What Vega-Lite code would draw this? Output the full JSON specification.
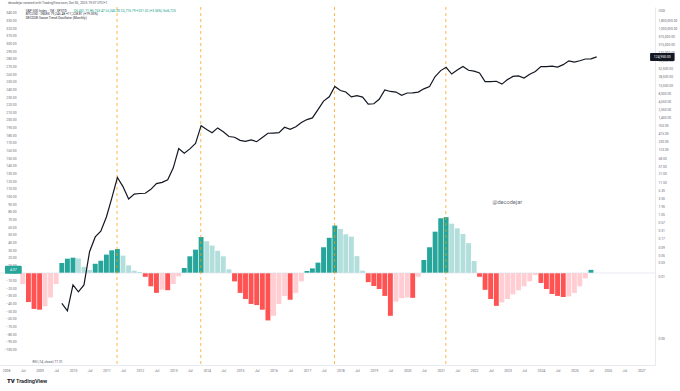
{
  "$schema": "https://vega.github.io/schema/vega-lite/v6.json",
  "width": 655,
  "height": 358,
  "autosize": {"type": "none"},
  "padding": {"left": 0, "top": 7, "right": 25, "bottom": 26},
  "background": "#ffffff",
  "config": {"view": {"stroke": null}, "font": "Roboto", "text": {"font": "Roboto"}},
  "datasets": {
    "osc": [
      {"t": "2008-07-01T00:00", "v": -14.4, "s": "recover"},
      {"t": "2008-09-01T00:00", "v": -38, "s": "drop"},
      {"t": "2008-11-01T00:00", "v": -47, "s": "drop"},
      {"t": "2009-01-01T00:00", "v": -48, "s": "drop"},
      {"t": "2009-03-01T00:00", "v": -43.6, "s": "recover"},
      {"t": "2009-05-01T00:00", "v": -32, "s": "recover"},
      {"t": "2009-07-01T00:00", "v": -14.4, "s": "recover"},
      {"t": "2009-09-01T00:00", "v": 13, "s": "grow"},
      {"t": "2009-11-01T00:00", "v": 18.7, "s": "grow"},
      {"t": "2010-01-01T00:00", "v": 20, "s": "grow"},
      {"t": "2010-03-01T00:00", "v": 19, "s": "fade"},
      {"t": "2010-05-01T00:00", "v": 8, "s": "fade"},
      {"t": "2010-07-01T00:00", "v": 4, "s": "fade"},
      {"t": "2010-09-01T00:00", "v": 12, "s": "grow"},
      {"t": "2010-11-01T00:00", "v": 16, "s": "grow"},
      {"t": "2011-01-01T00:00", "v": 24, "s": "grow"},
      {"t": "2011-03-01T00:00", "v": 29.6, "s": "grow"},
      {"t": "2011-05-01T00:00", "v": 31.4, "s": "grow"},
      {"t": "2011-07-01T00:00", "v": 22.7, "s": "fade"},
      {"t": "2011-09-01T00:00", "v": 10, "s": "fade"},
      {"t": "2011-11-01T00:00", "v": 3, "s": "fade"},
      {"t": "2012-01-01T00:00", "v": 1.3, "s": "fade"},
      {"t": "2012-03-01T00:00", "v": -5, "s": "drop"},
      {"t": "2012-05-01T00:00", "v": -17.4, "s": "drop"},
      {"t": "2012-07-01T00:00", "v": -26, "s": "drop"},
      {"t": "2012-09-01T00:00", "v": -21.8, "s": "recover"},
      {"t": "2012-11-01T00:00", "v": -22.5, "s": "drop"},
      {"t": "2013-01-01T00:00", "v": -14.4, "s": "recover"},
      {"t": "2013-03-01T00:00", "v": -4.4, "s": "recover"},
      {"t": "2013-05-01T00:00", "v": 6.5, "s": "grow"},
      {"t": "2013-07-01T00:00", "v": 21.8, "s": "grow"},
      {"t": "2013-09-01T00:00", "v": 30.5, "s": "grow"},
      {"t": "2013-11-01T00:00", "v": 47, "s": "grow"},
      {"t": "2014-01-01T00:00", "v": 41.4, "s": "fade"},
      {"t": "2014-03-01T00:00", "v": 35.8, "s": "fade"},
      {"t": "2014-05-01T00:00", "v": 29, "s": "fade"},
      {"t": "2014-07-01T00:00", "v": 21.8, "s": "fade"},
      {"t": "2014-09-01T00:00", "v": 4.8, "s": "fade"},
      {"t": "2014-11-01T00:00", "v": -11, "s": "drop"},
      {"t": "2015-01-01T00:00", "v": -26, "s": "drop"},
      {"t": "2015-03-01T00:00", "v": -34, "s": "drop"},
      {"t": "2015-05-01T00:00", "v": -40.5, "s": "drop"},
      {"t": "2015-07-01T00:00", "v": -42, "s": "drop"},
      {"t": "2015-09-01T00:00", "v": -48, "s": "drop"},
      {"t": "2015-11-01T00:00", "v": -62, "s": "drop"},
      {"t": "2016-01-01T00:00", "v": -56, "s": "recover"},
      {"t": "2016-03-01T00:00", "v": -40.5, "s": "recover"},
      {"t": "2016-05-01T00:00", "v": -30, "s": "recover"},
      {"t": "2016-07-01T00:00", "v": -35, "s": "drop"},
      {"t": "2016-09-01T00:00", "v": -26, "s": "recover"},
      {"t": "2016-11-01T00:00", "v": -11, "s": "recover"},
      {"t": "2017-01-01T00:00", "v": 2.6, "s": "grow"},
      {"t": "2017-03-01T00:00", "v": 6, "s": "grow"},
      {"t": "2017-05-01T00:00", "v": 13.5, "s": "grow"},
      {"t": "2017-07-01T00:00", "v": 33.6, "s": "grow"},
      {"t": "2017-09-01T00:00", "v": 46, "s": "grow"},
      {"t": "2017-11-01T00:00", "v": 62, "s": "grow"},
      {"t": "2018-01-01T00:00", "v": 57.5, "s": "fade"},
      {"t": "2018-03-01T00:00", "v": 50.6, "s": "fade"},
      {"t": "2018-05-01T00:00", "v": 47.5, "s": "fade"},
      {"t": "2018-07-01T00:00", "v": 22, "s": "fade"},
      {"t": "2018-09-01T00:00", "v": 3, "s": "fade"},
      {"t": "2018-11-01T00:00", "v": -12, "s": "drop"},
      {"t": "2019-01-01T00:00", "v": -17, "s": "drop"},
      {"t": "2019-03-01T00:00", "v": -21, "s": "drop"},
      {"t": "2019-05-01T00:00", "v": -30, "s": "drop"},
      {"t": "2019-07-01T00:00", "v": -56, "s": "drop"},
      {"t": "2019-09-01T00:00", "v": -37.5, "s": "recover"},
      {"t": "2019-11-01T00:00", "v": -33, "s": "recover"},
      {"t": "2020-01-01T00:00", "v": -32, "s": "recover"},
      {"t": "2020-03-01T00:00", "v": -32.5, "s": "drop"},
      {"t": "2020-05-01T00:00", "v": -5, "s": "recover"},
      {"t": "2020-07-01T00:00", "v": 17, "s": "grow"},
      {"t": "2020-09-01T00:00", "v": 33.6, "s": "grow"},
      {"t": "2020-11-01T00:00", "v": 54, "s": "grow"},
      {"t": "2021-01-01T00:00", "v": 71.5, "s": "grow"},
      {"t": "2021-03-01T00:00", "v": 73, "s": "grow"},
      {"t": "2021-05-01T00:00", "v": 64.5, "s": "fade"},
      {"t": "2021-07-01T00:00", "v": 58.4, "s": "fade"},
      {"t": "2021-09-01T00:00", "v": 51, "s": "fade"},
      {"t": "2021-11-01T00:00", "v": 39, "s": "fade"},
      {"t": "2022-01-01T00:00", "v": 15.7, "s": "fade"},
      {"t": "2022-03-01T00:00", "v": -5, "s": "drop"},
      {"t": "2022-05-01T00:00", "v": -22, "s": "drop"},
      {"t": "2022-07-01T00:00", "v": -34, "s": "drop"},
      {"t": "2022-09-01T00:00", "v": -43, "s": "drop"},
      {"t": "2022-11-01T00:00", "v": -38.5, "s": "recover"},
      {"t": "2023-01-01T00:00", "v": -34, "s": "recover"},
      {"t": "2023-03-01T00:00", "v": -28, "s": "recover"},
      {"t": "2023-05-01T00:00", "v": -22.7, "s": "recover"},
      {"t": "2023-07-01T00:00", "v": -17.4, "s": "recover"},
      {"t": "2023-09-01T00:00", "v": -11, "s": "recover"},
      {"t": "2023-11-01T00:00", "v": -2.6, "s": "recover"},
      {"t": "2024-01-01T00:00", "v": -13, "s": "drop"},
      {"t": "2024-03-01T00:00", "v": -21, "s": "drop"},
      {"t": "2024-05-01T00:00", "v": -27.5, "s": "drop"},
      {"t": "2024-07-01T00:00", "v": -30, "s": "drop"},
      {"t": "2024-09-01T00:00", "v": -31.4, "s": "drop"},
      {"t": "2024-11-01T00:00", "v": -30.5, "s": "recover"},
      {"t": "2025-01-01T00:00", "v": -26, "s": "recover"},
      {"t": "2025-03-01T00:00", "v": -17.4, "s": "recover"},
      {"t": "2025-05-01T00:00", "v": -7, "s": "recover"},
      {"t": "2025-07-01T00:00", "v": 4.07, "s": "grow"}
    ],
    "btc": [
      {"t": "2009-09-01T00:00", "p": 0.0014},
      {"t": "2009-11-01T00:00", "p": 0.0008},
      {"t": "2010-01-01T00:00", "p": 0.0055},
      {"t": "2010-03-01T00:00", "p": 0.0033},
      {"t": "2010-05-01T00:00", "p": 0.0055},
      {"t": "2010-07-01T00:00", "p": 0.065},
      {"t": "2010-09-01T00:00", "p": 0.195},
      {"t": "2010-11-01T00:00", "p": 0.3},
      {"t": "2011-01-01T00:00", "p": 0.86},
      {"t": "2011-03-01T00:00", "p": 3.5},
      {"t": "2011-05-01T00:00", "p": 16.1},
      {"t": "2011-07-01T00:00", "p": 8.2},
      {"t": "2011-09-01T00:00", "p": 3.25},
      {"t": "2011-11-01T00:00", "p": 4.7},
      {"t": "2012-01-01T00:00", "p": 4.9},
      {"t": "2012-03-01T00:00", "p": 5.0},
      {"t": "2012-05-01T00:00", "p": 6.7},
      {"t": "2012-07-01T00:00", "p": 10.2},
      {"t": "2012-09-01T00:00", "p": 11.2},
      {"t": "2012-11-01T00:00", "p": 13.5},
      {"t": "2013-01-01T00:00", "p": 33},
      {"t": "2013-03-01T00:00", "p": 139},
      {"t": "2013-05-01T00:00", "p": 97},
      {"t": "2013-07-01T00:00", "p": 135},
      {"t": "2013-09-01T00:00", "p": 204},
      {"t": "2013-11-01T00:00", "p": 757},
      {"t": "2014-01-01T00:00", "p": 573},
      {"t": "2014-03-01T00:00", "p": 448},
      {"t": "2014-05-01T00:00", "p": 640},
      {"t": "2014-07-01T00:00", "p": 478},
      {"t": "2014-09-01T00:00", "p": 338},
      {"t": "2014-11-01T00:00", "p": 320},
      {"t": "2015-01-01T00:00", "p": 254},
      {"t": "2015-03-01T00:00", "p": 236},
      {"t": "2015-05-01T00:00", "p": 264},
      {"t": "2015-07-01T00:00", "p": 230},
      {"t": "2015-09-01T00:00", "p": 314},
      {"t": "2015-11-01T00:00", "p": 430},
      {"t": "2016-01-01T00:00", "p": 437},
      {"t": "2016-03-01T00:00", "p": 448},
      {"t": "2016-05-01T00:00", "p": 673},
      {"t": "2016-07-01T00:00", "p": 573},
      {"t": "2016-09-01T00:00", "p": 700},
      {"t": "2016-11-01T00:00", "p": 964},
      {"t": "2017-01-01T00:00", "p": 1190},
      {"t": "2017-03-01T00:00", "p": 1350},
      {"t": "2017-05-01T00:00", "p": 2480},
      {"t": "2017-07-01T00:00", "p": 4700},
      {"t": "2017-09-01T00:00", "p": 6450},
      {"t": "2017-11-01T00:00", "p": 13880},
      {"t": "2018-01-01T00:00", "p": 10300},
      {"t": "2018-03-01T00:00", "p": 9240},
      {"t": "2018-05-01T00:00", "p": 6400},
      {"t": "2018-07-01T00:00", "p": 7000},
      {"t": "2018-09-01T00:00", "p": 6300},
      {"t": "2018-11-01T00:00", "p": 3740},
      {"t": "2019-01-01T00:00", "p": 3850},
      {"t": "2019-03-01T00:00", "p": 5350},
      {"t": "2019-05-01T00:00", "p": 10800},
      {"t": "2019-07-01T00:00", "p": 9600},
      {"t": "2019-09-01T00:00", "p": 9150},
      {"t": "2019-11-01T00:00", "p": 7200},
      {"t": "2020-01-01T00:00", "p": 8550},
      {"t": "2020-03-01T00:00", "p": 8650},
      {"t": "2020-05-01T00:00", "p": 9150},
      {"t": "2020-07-01T00:00", "p": 11650},
      {"t": "2020-09-01T00:00", "p": 13800},
      {"t": "2020-11-01T00:00", "p": 29000},
      {"t": "2021-01-01T00:00", "p": 45200},
      {"t": "2021-03-01T00:00", "p": 57700},
      {"t": "2021-05-01T00:00", "p": 35000},
      {"t": "2021-07-01T00:00", "p": 47100},
      {"t": "2021-09-01T00:00", "p": 61300},
      {"t": "2021-11-01T00:00", "p": 46300},
      {"t": "2022-01-01T00:00", "p": 43200},
      {"t": "2022-03-01T00:00", "p": 37700},
      {"t": "2022-05-01T00:00", "p": 19900},
      {"t": "2022-07-01T00:00", "p": 20050},
      {"t": "2022-09-01T00:00", "p": 20500},
      {"t": "2022-11-01T00:00", "p": 16550},
      {"t": "2023-01-01T00:00", "p": 23150},
      {"t": "2023-03-01T00:00", "p": 29250},
      {"t": "2023-05-01T00:00", "p": 30450},
      {"t": "2023-07-01T00:00", "p": 25950},
      {"t": "2023-09-01T00:00", "p": 34650},
      {"t": "2023-11-01T00:00", "p": 42300},
      {"t": "2024-01-01T00:00", "p": 61200},
      {"t": "2024-03-01T00:00", "p": 60650},
      {"t": "2024-05-01T00:00", "p": 62700},
      {"t": "2024-07-01T00:00", "p": 58950},
      {"t": "2024-09-01T00:00", "p": 70200},
      {"t": "2024-11-01T00:00", "p": 93400},
      {"t": "2025-01-01T00:00", "p": 84350},
      {"t": "2025-03-01T00:00", "p": 94200},
      {"t": "2025-05-01T00:00", "p": 107150},
      {"t": "2025-07-01T00:00", "p": 108250},
      {"t": "2025-09-01T00:00", "p": 124950}
    ],
    "peaks": [
      {"t": "2011-04-27T00:00"},
      {"t": "2013-10-28T00:00"},
      {"t": "2017-10-29T00:00"},
      {"t": "2021-02-26T00:00"}
    ],
    "darknotes": [
      {"t": "2008-08-02T00:00", "y": 342.9, "txt": "S&P 500 Index · 1M · SPXTD"},
      {"t": "2008-08-02T00:00", "y": 338.3, "txt": "BTCUSD · INDEX  79,246.48  +11,228.81 (+79.05%)"},
      {"t": "2008-08-02T00:00", "y": 333.7, "txt": "DECODE Sauce Trend Oscillator (Monthly)"}
    ],
    "tealnotes": [
      {"t": "2010-01-12T00:00", "y": 342.9, "txt": "O6,451.71  H6,763.47  L6,343.30  C6,715.79  +231.52 (+3.56%)  Vol6,725"}
    ],
    "graynotes": [
      {"t": "2008-01-21T00:00", "y": 353.3, "txt": "decodejar created with TradingView.com, Oct 06, 2025 19:07 UTC+1"},
      {"t": "2008-10-16T00:00", "y": -116, "txt": "RSI (14, close)  77.31"}
    ]
  },
  "encoding": {
    "x": {
      "field": "t", "type": "temporal",
      "scale": {"domain": [{"year": 2007, "month": 12, "date": 20}, {"year": 2027, "month": 4, "date": 7}]},
      "axis": {
        "title": null,
        "orient": "bottom",
        "tickCount": {"interval": "month", "step": 6},
        "format": "%Y",
        "labelExpr": "month(datum.value) == 0 ? datum.label : 'Jul'",
        "labelFontSize": 3.4,
        "labelColor": "#6a6d78",
        "labelPadding": 3,
        "labelOverlap": false,
        "labelFlush": false,
        "ticks": false,
        "grid": false,
        "domain": true,
        "domainColor": "#e0e3eb",
        "domainWidth": 0.8
      }
    }
  },
  "resolve": {"scale": {"y": "independent"}},
  "layer": [
    {
      "data": {"name": "osc"},
      "mark": {"type": "bar", "size": 4.9},
      "encoding": {
        "y": {
          "field": "v", "type": "quantitative",
          "scale": {"domain": [-120.3, 347.7], "nice": false, "zero": false},
          "axis": {
            "title": null,
            "orient": "left",
            "offset": -16,
            "values": [340, 330, 320, 310, 300, 290, 280, 270, 260, 250, 240, 230, 220, 210, 200, 190, 180, 170, 160, 150, 140, 130, 120, 110, 100, 90, 80, 70, 60, 50, 40, 30, 20, 10, 0, -10, -20, -30, -40, -50, -60, -70, -80, -90, -100],
            "format": ".2f",
            "labelFontSize": 3.3,
            "labelColor": "#6a6d78",
            "labelPadding": 0,
            "labelOverlap": false,
            "ticks": false,
            "grid": false,
            "domain": false
          }
        },
        "color": {
          "field": "s", "type": "nominal",
          "scale": {"domain": ["grow", "fade", "drop", "recover"], "range": ["#26a69a", "#b2dfdb", "#ff5252", "#ffcdd2"]},
          "legend": null
        }
      }
    },
    {
      "data": {"values": [{"t": "2015-01-01T00:00", "z": 0}]},
      "mark": {"type": "rule", "stroke": "#e0e3eb", "strokeWidth": 0.7},
      "encoding": {
        "x": null,
        "y": {"field": "z", "type": "quantitative", "scale": {"domain": [-120.3, 347.7], "nice": false, "zero": false}, "axis": null}
      }
    },
    {
      "data": {"name": "peaks"},
      "mark": {"type": "rule", "stroke": "#ff9800", "strokeWidth": 1, "strokeDash": [3, 3], "opacity": 0.7},
      "encoding": {}
    },
    {
      "data": {"values": [{"t": "2007-12-20T00:00", "t2": "2008-06-20T00:00", "lo": -1.16, "hi": 9.3}]},
      "mark": {"type": "rect", "fill": "#26a69a", "cornerRadius": 1},
      "encoding": {
        "x2": {"field": "t2"},
        "y": {"field": "lo", "type": "quantitative", "scale": {"domain": [-120.3, 347.7], "nice": false, "zero": false}, "axis": null},
        "y2": {"field": "hi"}
      }
    },
    {
      "data": {"values": [{"t": "2008-03-20T00:00", "a": 4.07}]},
      "mark": {"type": "text", "fill": "#ffffff", "fontSize": 3.4, "align": "center", "baseline": "middle"},
      "encoding": {
        "y": {"field": "a", "type": "quantitative", "scale": {"domain": [-120.3, 347.7], "nice": false, "zero": false}, "axis": null},
        "text": {"field": "a", "type": "quantitative", "format": ".2f"}
      }
    },
    {
      "data": {"name": "darknotes"},
      "mark": {"type": "text", "align": "left", "baseline": "middle", "fontSize": 3.3, "fill": "#2a2e39"},
      "encoding": {
        "y": {"field": "y", "type": "quantitative", "scale": {"domain": [-120.3, 347.7], "nice": false, "zero": false}, "axis": null},
        "text": {"field": "txt"}
      }
    },
    {
      "data": {"name": "tealnotes"},
      "mark": {"type": "text", "align": "left", "baseline": "middle", "fontSize": 3.3, "fill": "#089981"},
      "encoding": {
        "y": {"field": "y", "type": "quantitative", "scale": {"domain": [-120.3, 347.7], "nice": false, "zero": false}, "axis": null},
        "text": {"field": "txt"}
      }
    },
    {
      "data": {"name": "graynotes"},
      "mark": {"type": "text", "align": "left", "baseline": "middle", "fontSize": 3.3, "fill": "#50535e"},
      "encoding": {
        "y": {"field": "y", "type": "quantitative", "scale": {"domain": [-120.3, 347.7], "nice": false, "zero": false}, "axis": null},
        "text": {"field": "txt"}
      }
    },
    {
      "data": {"values": [{"t": "2022-12-29T00:00", "w": "@decodejar", "y": 93.2}]},
      "mark": {"type": "text", "align": "center", "baseline": "middle", "fontSize": 5.6, "fill": "#6a6d78"},
      "encoding": {
        "y": {"field": "y", "type": "quantitative", "scale": {"domain": [-120.3, 347.7], "nice": false, "zero": false}, "axis": null},
        "text": {"field": "w"}
      }
    },
    {
      "data": {"values": [{"t": "2008-01-10T00:00", "y": -141.2, "w": "TV"}]},
      "mark": {"type": "text", "align": "left", "baseline": "middle", "fontSize": 6, "fontWeight": 900, "fill": "#131722"},
      "encoding": {
        "y": {"field": "y", "type": "quantitative", "scale": {"domain": [-120.3, 347.7], "nice": false, "zero": false}, "axis": null},
        "text": {"field": "w"}
      }
    },
    {
      "data": {"values": [{"t": "2008-04-17T00:00", "y": -141.2, "w": "TradingView"}]},
      "mark": {"type": "text", "align": "left", "baseline": "middle", "fontSize": 5.6, "fontWeight": 600, "fill": "#131722"},
      "encoding": {
        "y": {"field": "y", "type": "quantitative", "scale": {"domain": [-120.3, 347.7], "nice": false, "zero": false}, "axis": null},
        "text": {"field": "w"}
      }
    },
    {
      "data": {"name": "btc"},
      "mark": {"type": "line", "stroke": "#131722", "strokeWidth": 1.2},
      "encoding": {
        "y": {
          "field": "p", "type": "quantitative",
          "scale": {"type": "log", "domain": [0.0000144, 5090000], "nice": false},
          "axis": {
            "orient": "right",
            "title": "USD",
            "titleAngle": 0,
            "titleAlign": "left",
            "titleBaseline": "middle",
            "titleX": 3,
            "titleY": 3,
            "titleFontSize": 3.4,
            "titleFontWeight": "normal",
            "titleColor": "#6a6d78",
            "values": [1800000, 1000000, 575000, 315000, 175000, 96000, 52500, 28500, 15500, 8500, 4650, 2550, 1400, 760, 415, 230, 125, 68, 37, 21, 11.5, 6.3, 3.5, 1.9, 1.05, 0.57, 0.31, 0.17, 0.09, 0.05, 0.03, 0.01, 0.0001],
            "format": ",.2f",
            "labelFontSize": 3.3,
            "labelColor": "#6a6d78",
            "labelPadding": 3,
            "labelAlign": "left",
            "labelOverlap": false,
            "ticks": false,
            "grid": false,
            "domain": true,
            "domainColor": "#e0e3eb",
            "domainWidth": 0.8
          }
        }
      }
    },
    {
      "data": {"values": [{"t": "2027-04-08T00:00", "t2": "2028-01-01T00:00", "lo": 92800, "hi": 168200}]},
      "mark": {"type": "rect", "fill": "#131722", "cornerRadius": 1},
      "encoding": {
        "x2": {"field": "t2"},
        "y": {"field": "lo", "type": "quantitative", "scale": {"type": "log", "domain": [0.0000144, 5090000], "nice": false}, "axis": null},
        "y2": {"field": "hi"}
      }
    },
    {
      "data": {"values": [{"t": "2027-08-19T00:00", "p": 124950}]},
      "mark": {"type": "text", "fill": "#ffffff", "fontSize": 3.4, "align": "center", "baseline": "middle"},
      "encoding": {
        "y": {"field": "p", "type": "quantitative", "scale": {"type": "log", "domain": [0.0000144, 5090000], "nice": false}, "axis": null},
        "text": {"field": "p", "type": "quantitative", "format": ",.2f"}
      }
    }
  ]
}
